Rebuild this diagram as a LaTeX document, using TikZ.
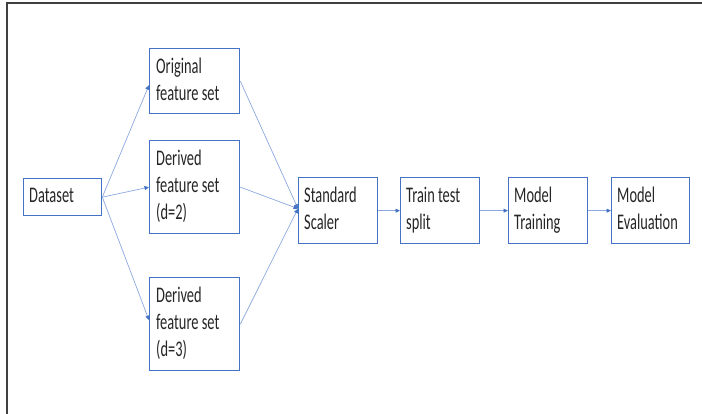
\documentclass[tikz,border=0pt]{standalone}
\usepackage{fontspec}
\setmainfont{Carlito}
\usepackage{graphicx}
\usetikzlibrary{arrows.meta,calc}
\definecolor{boxblue}{RGB}{68,114,196}
\definecolor{linkblue}{RGB}{140,168,222}
\definecolor{framegray}{RGB}{64,64,64}
\newcommand{\stxt}[1]{\scalebox{1}[1.55]{\fontsize{14.4}{17.4}\selectfont\begin{tabular}[t]{@{}l@{}}#1\end{tabular}}}
\tikzset{
  box/.style={draw=boxblue, line width=1.3pt, inner sep=0pt, anchor=north west, fill=white},
  txt/.style={anchor=base west, inner sep=0pt, text=black!85},
  link/.style={draw=linkblue, line width=0.7pt, -{Triangle[length=4.5pt,width=4pt,color=boxblue]}},
  frame/.style={draw=framegray, line width=1.6pt}
}
\begin{document}
\begin{tikzpicture}[x=1pt,y=-1pt]
\useasboundingbox (0,0) rectangle (702,414);
\coordinate (fa) at (7,414);
\coordinate (fb) at (7,3);
\coordinate (fc) at (702,3);
\draw[frame] (fa) -- (fb) -- (fc);
% boxes
\node[box, minimum width=78pt, minimum height=37pt] (ds) at (23,178) {};
\node[box, minimum width=90pt, minimum height=65pt] (orig) at (149,48) {};
\node[box, minimum width=90pt, minimum height=93pt] (d2) at (149,140) {};
\node[box, minimum width=90pt, minimum height=93pt] (d3) at (149,277) {};
\node[box, minimum width=79pt, minimum height=66pt] (sc) at (298,177) {};
\node[box, minimum width=79pt, minimum height=66pt] (tts) at (400,177) {};
\node[box, minimum width=79pt, minimum height=66pt] (mt) at (508,177) {};
\node[box, minimum width=78pt, minimum height=66pt] (me) at (611,177) {};
% texts
\node[txt] (tds) at ($(ds.north west)+(6,25)$) {\stxt{Dataset}};
\node[txt] (torig) at ($(orig.north west)+(7,26)$) {\stxt{Original\\feature set}};
\node[txt] (td2) at ($(d2.north west)+(7,26)$) {\stxt{Derived\\feature set\\(d=2)}};
\node[txt] (td3) at ($(d3.north west)+(7,26)$) {\stxt{Derived\\feature set\\(d=3)}};
\node[txt] (tsc) at ($(sc.north west)+(6,26)$) {\stxt{Standard\\Scaler}};
\node[txt] (ttts) at ($(tts.north west)+(6,26)$) {\stxt{Train test\\split}};
\node[txt] (tmt) at ($(mt.north west)+(6,26)$) {\stxt{Model\\Training}};
\node[txt] (tme) at ($(me.north west)+(6,26)$) {\stxt{Model\\Evaluation}};
% connectors
\draw[link] (ds.east) -- ($(orig.west)+(0,4)$);
\draw[link] (ds.east) -- (d2.west);
\draw[link] (ds.east) -- ($(d3.west)+(0,-4)$);
\draw[link] (orig.east) -- ($(sc.west)+(0,-2)$);
\draw[link] (d2.east) -- ($(sc.west)+(0,-2)$);
\draw[link] (d3.east) -- ($(sc.west)+(0,-2)$);
\draw[link] (sc.east) -- (tts.west);
\draw[link] (tts.east) -- (mt.west);
\draw[link] (mt.east) -- (me.west);
\end{tikzpicture}
\end{document}
